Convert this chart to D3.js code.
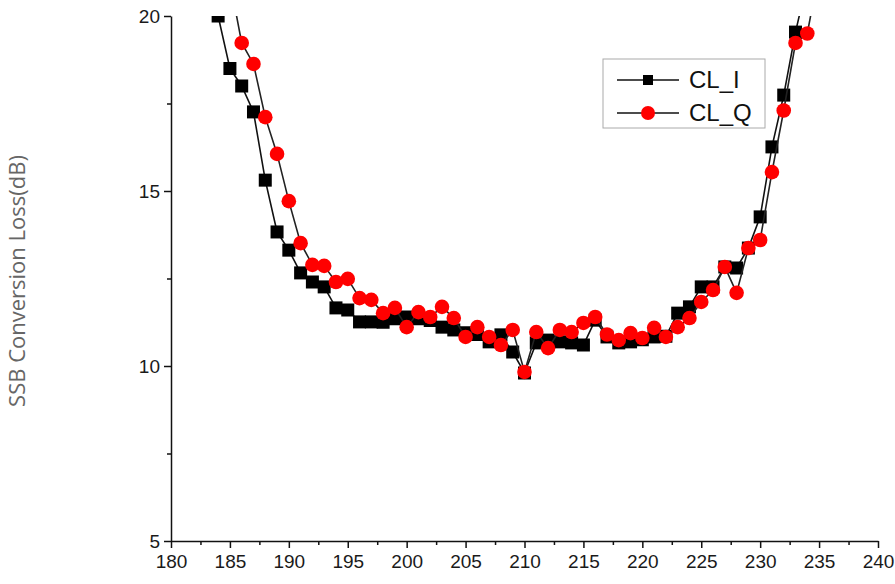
<!DOCTYPE html>
<html>
<head>
<meta charset="utf-8">
<script src="https://cdn.jsdelivr.net/npm/d3@7"></script>
<style>
  body { margin: 0; background: #fff; }
  svg { display: block; }
</style>
</head>
<body>
<svg id="chart" width="895" height="584"></svg>
<script>
"use strict";

// frequency (GHz) and conversion loss (dB)
var freq_i = [184,185,186,187,188,189,190,191,192,193,194,195,196,197,198,199,200,201,202,203,204,205,206,207,208,209,210,211,212,213,214,215,216,217,218,219,220,221,222,223,224,225,226,227,228,229,230,231,232,233,234];
var cl_i = [20.0,18.5,18.0,17.26,15.31,13.83,13.31,12.66,12.4,12.26,11.66,11.6,11.26,11.26,11.25,11.35,11.4,11.35,11.3,11.11,11.03,10.95,10.9,10.69,10.89,10.4,9.8,10.66,10.74,10.69,10.66,10.6,11.31,10.83,10.66,10.69,10.75,10.83,10.85,11.51,11.69,12.26,12.26,12.83,12.8,13.37,14.26,16.26,17.74,19.54,21.0];

var freq_q = [185,186,187,188,189,190,191,192,193,194,195,196,197,198,199,200,201,202,203,204,205,206,207,208,209,210,211,212,213,214,215,216,217,218,219,220,221,222,223,224,225,226,227,228,229,230,231,232,233,234,235];
var cl_q = [21.0,19.23,18.63,17.11,16.06,14.71,13.51,12.89,12.86,12.4,12.49,11.94,11.89,11.51,11.66,11.11,11.54,11.4,11.69,11.37,10.83,11.11,10.83,10.6,11.03,9.83,10.97,10.51,11.03,10.97,11.23,11.4,10.9,10.74,10.94,10.8,11.09,10.83,11.11,11.37,11.83,12.17,12.83,12.09,13.37,13.6,15.54,17.3,19.23,19.5,21.3];

var x_ticks = [180,185,190,195,200,205,210,215,220,225,230,235,240];
var y_ticks = [5,10,15,20];
var legend_labels = ["CL_I", "CL_Q"];

var svg = d3.select("#chart");

var x = d3.scaleLinear().domain([180, 240]).range([171, 878]);
var y = d3.scaleLinear().domain([5, 20]).range([541, 16]);

// clip for the plot area
svg.append("defs").append("clipPath").attr("id", "plotclip")
	.append("rect")
		.attr("x", x(180)).attr("y", y(20))
		.attr("width", x(240) - x(180)).attr("height", y(5) - y(20));

// minor ticks first, then the main axes on top
var x_minor = x_ticks.slice(0, -1).map(function(d) { return d + 2.5; });
var y_minor = y_ticks.slice(0, -1).map(function(d) { return d + 2.5; });

svg.append("g")
	.attr("transform", "translate(0," + y(5) + ")")
	.call(d3.axisBottom(x).tickValues(x_minor).tickSize(4).tickFormat(""))
	.call(function(g) { g.select(".domain").remove(); })
	.selectAll("line").attr("stroke", "#111").attr("stroke-width", 1.5);

svg.append("g")
	.attr("transform", "translate(" + x(180) + ",0)")
	.call(d3.axisLeft(y).tickValues(y_minor).tickSize(4).tickFormat(""))
	.call(function(g) { g.select(".domain").remove(); })
	.selectAll("line").attr("stroke", "#111").attr("stroke-width", 1.5);

var xAxis = svg.append("g")
	.attr("transform", "translate(0," + y(5) + ")")
	.call(d3.axisBottom(x).tickValues(x_ticks).tickSize(7).tickSizeOuter(0).tickPadding(7).tickFormat(d3.format("d")));

var yAxis = svg.append("g")
	.attr("transform", "translate(" + x(180) + ",0)")
	.call(d3.axisLeft(y).tickValues(y_ticks).tickSize(7).tickSizeOuter(0).tickPadding(4).tickFormat(d3.format("d")));

[xAxis, yAxis].forEach(function(a) {
	a.select(".domain").attr("stroke", "#111").attr("stroke-width", 1.5);
	a.selectAll(".tick line").attr("stroke", "#111").attr("stroke-width", 1.5);
	a.selectAll(".tick text")
		.style("font-family", "'Liberation Sans', Arial, sans-serif")
		.style("font-size", "19px")
		.style("fill", "#1a1a1a");
});

// y axis title
svg.append("text")
	.attr("transform", "translate(25," + 281 + ") rotate(-90)")
	.attr("text-anchor", "middle")
	.style("font-family", "'Open Sans', sans-serif")
	.style("font-size", "22px")
	.style("fill", "#666")
	.text("SSB Conversion Loss(dB)");

var plot = svg.append("g").attr("clip-path", "url(#plotclip)");

var line = d3.line()
	.x(function(d) { return x(d[0]); })
	.y(function(d) { return y(d[1]); });

var data_i = d3.zip(freq_i, cl_i);
var data_q = d3.zip(freq_q, cl_q);

//CL_I
plot.append("path")
	.datum(data_i)
	.attr("d", line)
	.attr("fill", "none")
	.attr("stroke", "#111")
	.attr("stroke-width", 1.6);

plot.selectAll(".sq")
	.data(data_i)
	.enter().append("rect")
		.attr("class", "sq")
		.attr("x", function(d) { return x(d[0]) - 6.5; })
		.attr("y", function(d) { return y(d[1]) - 6.5; })
		.attr("width", 13)
		.attr("height", 13)
		.attr("fill", "#000");

//CL_Q
plot.append("path")
	.datum(data_q)
	.attr("d", line)
	.attr("fill", "none")
	.attr("stroke", "#222")
	.attr("stroke-width", 1.6);

plot.selectAll(".dot")
	.data(data_q)
	.enter().append("circle")
		.attr("class", "dot")
		.attr("cx", function(d) { return x(d[0]); })
		.attr("cy", function(d) { return y(d[1]); })
		.attr("r", 7.3)
		.attr("fill", "#f00");

// legend
var legend = svg.append("g").attr("transform", "translate(603,59)");

legend.append("rect")
	.attr("width", 162)
	.attr("height", 69)
	.attr("fill", "#fff")
	.attr("stroke", "#aaa")
	.attr("stroke-width", 1);

legend_labels.forEach(function(label, i) {
	var ly = 21 + i * 33;
	legend.append("line")
		.attr("x1", 14).attr("x2", 76)
		.attr("y1", ly).attr("y2", ly)
		.attr("stroke", "#111").attr("stroke-width", 1.6);
	if (i == 0) {
		legend.append("rect")
			.attr("x", 40).attr("y", ly - 5)
			.attr("width", 10).attr("height", 10)
			.attr("fill", "#000");
	}
	else {
		legend.append("circle")
			.attr("cx", 45).attr("cy", ly)
			.attr("r", 7)
			.attr("fill", "#f00");
	}
	legend.append("text")
		.attr("x", 86)
		.attr("y", ly + 8)
		.style("font-family", "'Liberation Sans', Arial, sans-serif")
		.style("font-size", "24px")
		.style("fill", "#111")
		.text(label);
});
</script>
</body>
</html>
